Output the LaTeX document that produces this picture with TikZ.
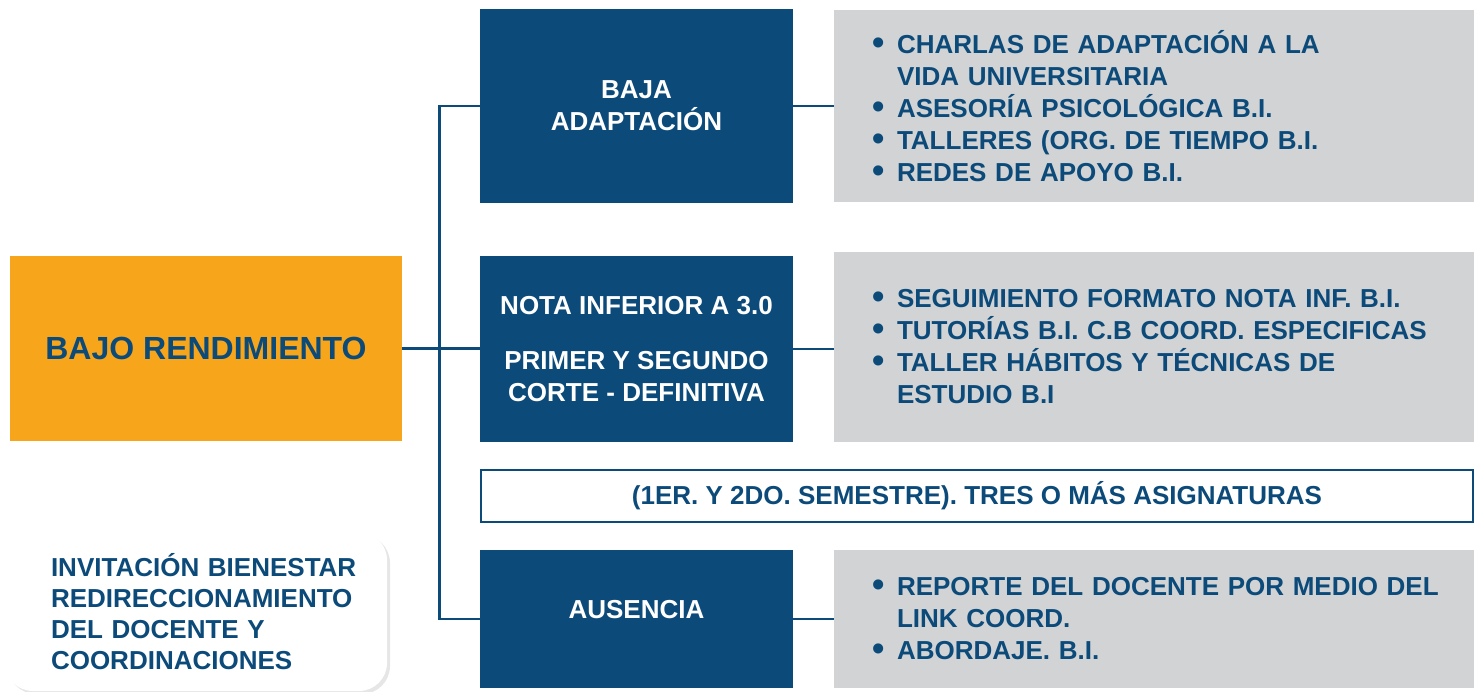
\documentclass[tikz,border=0pt]{standalone}
\usepackage{fontspec}
\setmainfont{Liberation Sans}
\usepackage{xcolor}
\usepackage{graphicx}
\usetikzlibrary{positioning,calc,shadows}
\definecolor{azulosc}{RGB}{12,74,122}
\definecolor{naranja}{RGB}{247,166,28}
\definecolor{gris}{RGB}{209,211,212}
\newcommand{\itm}[1]{\mbox{\makebox[25pt][l]{\raisebox{-1pt}{\scalebox{1.35}{\textbullet}}}#1}}
\newcommand{\cont}[1]{\mbox{\hspace*{25pt}#1}}

\begin{document}
\begin{tikzpicture}[x=1pt,y=-1pt,
  every node/.style={font=\fontsize{26}{32}\selectfont\bfseries},
  azul/.style={fill=azulosc,text=white,minimum width=313pt,align=center,inner sep=0pt},
  gbox/.style={fill=gris,text=azulosc,text width=564pt,inner xsep=38pt,inner ysep=0pt,align=left},
  linea/.style={azulosc,line width=2.7pt}]
\useasboundingbox (0,0) rectangle (1483,692);
% caja principal
\node[fill=naranja,text=azulosc,minimum width=392pt,minimum height=185pt,
  font=\fontsize{32}{38}\selectfont\bfseries] (bajo) at (206,348.5) {BAJO RENDIMIENTO};
% causas
\node[azul,minimum height=194pt] (adapt) at (636.5,106) {BAJA\\ADAPTACIÓN};
\node[azul,minimum height=186pt] (nota) at (636.5,349) {NOTA INFERIOR A 3.0\\[23pt]PRIMER Y SEGUNDO\\CORTE - DEFINITIVA};
\node[azul,minimum height=138pt,text depth=20pt] (ausencia) at (636.5,619) {AUSENCIA};
\node[draw=azulosc,line width=2pt,text=azulosc,minimum width=992pt,minimum height=52pt] (semestre) at (977,496)
  {(1ER. Y 2DO. SEMESTRE). TRES O MÁS ASIGNATURAS};
% acciones
\node[gbox,minimum height=192pt] (accadapt) at (1154,106) {\itm{CHARLAS DE ADAPTACIÓN A LA}\\\cont{VIDA UNIVERSITARIA}\\
  \itm{ASESORÍA PSICOLÓGICA B.I.}\\\itm{TALLERES (ORG. DE TIEMPO B.I.}\\\itm{REDES DE APOYO B.I.}};
\node[gbox,minimum height=190pt] (accnota) at (1154,347) {\itm{SEGUIMIENTO FORMATO NOTA INF. B.I.}\\
  \itm{TUTORÍAS B.I. C.B COORD. ESPECIFICAS}\\\itm{TALLER HÁBITOS Y TÉCNICAS DE}\\\cont{ESTUDIO B.I}};
\node[gbox,minimum height=138pt] (accausencia) at (1154,619) {\itm{REPORTE DEL DOCENTE POR MEDIO DEL}\\
  \cont{LINK COORD.}\\\itm{ABORDAJE. B.I.}};
% nota al pie
\node[fill=white,rounded corners=28pt,drop shadow={shadow xshift=3pt,shadow yshift=-3pt,opacity=0.2},
  text=azulosc,text width=290pt,inner xsep=46pt,minimum height=159pt,align=left,
  font=\fontsize{26}{31}\selectfont\bfseries] (invit) at (196,611.5)
  {\mbox{INVITACIÓN BIENESTAR}\\\mbox{REDIRECCIONAMIENTO}\\\mbox{DEL DOCENTE Y}\\\mbox{COORDINACIONES}};
% conectores
\draw[linea] (bajo.east) -- (bajo.east -| nota.west);
\draw[linea] (adapt.west) -- ++(-40,0) |- (ausencia.west);
\draw[linea] (adapt.east) -- (accadapt.west);
\draw[linea] (nota.east) -- (nota.east -| accnota.west);
\draw[linea] (ausencia.east) -- (accausencia.west);
\end{tikzpicture}
\end{document}
